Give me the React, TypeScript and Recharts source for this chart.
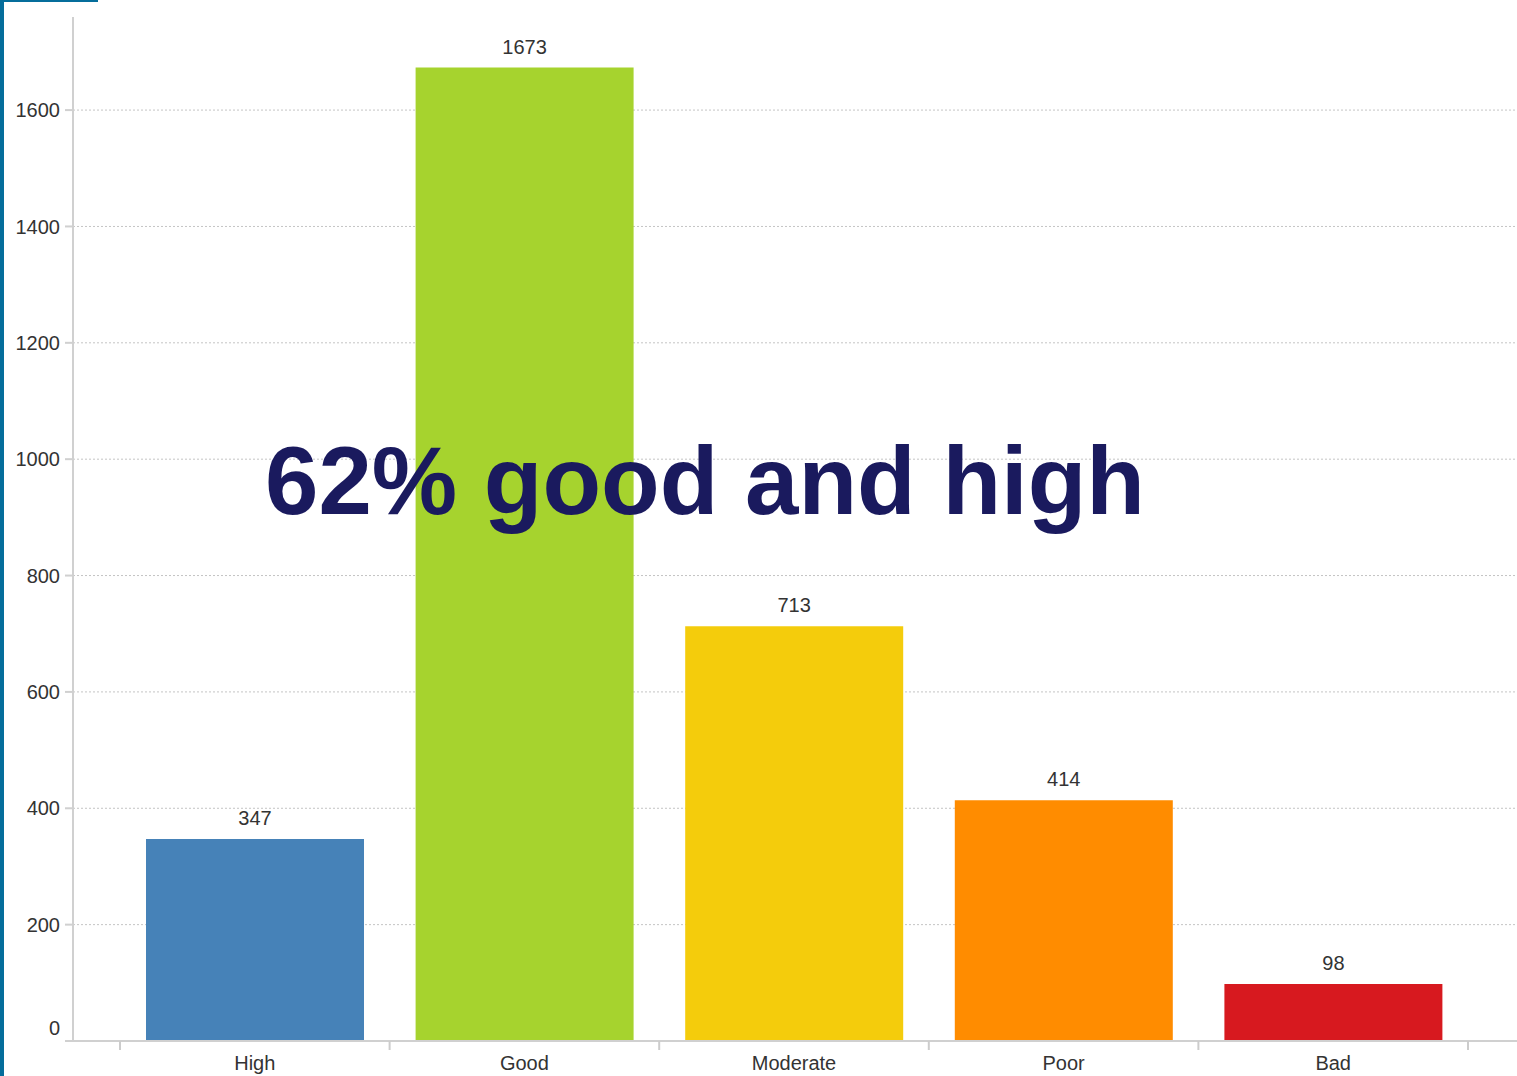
import { BarChart, Bar, XAxis, YAxis, CartesianGrid, Cell, LabelList } from "recharts";

const categories = ["High", "Good", "Moderate", "Poor", "Bad"];
const counts = [347, 1673, 713, 414, 98];
const barColors = ["#4682b8", "#a6d32e", "#f4cc0c", "#ff8c00", "#d7191f"];
const yTicks = [0, 200, 400, 600, 800, 1000, 1200, 1400, 1600];

const data = categories.map((name, i) => ({ name, value: counts[i] }));

const FONT = "'Liberation Sans', Arial, sans-serif";

function YTick(props: any) {
  const { x, y, payload } = props;
  // the zero label sits a bit above its line in the original
  const yy = payload.value === 0 ? y - 13 : y;
  return (
    <text x={x} y={yy} dy="0.355em" textAnchor="end" fontSize={20} fontFamily={FONT} fill="#333">
      {payload.value}
    </text>
  );
}

function XTick(props: any) {
  const { x, y, payload, index } = props;
  const half = payload.offset ?? 0;
  return (
    <g>
      <line x1={x - half} x2={x - half} y1={y} y2={y + 9} stroke="#ccc" strokeWidth={2} />
      {index === categories.length - 1 && (
        <line x1={x + half} x2={x + half} y1={y} y2={y + 9} stroke="#ccc" strokeWidth={2} />
      )}
      <text x={x} y={y + 22} dy="0.355em" textAnchor="middle" fontSize={20} fontFamily={FONT} fill="#333">
        {payload.value}
      </text>
    </g>
  );
}

export default function App() {
  return (
    <div style={{ position: "absolute", left: 0, top: 0, width: 1517, height: 1076, background: "#fff", overflow: "hidden" }}>
      <div style={{ position: "absolute", left: 0, top: 0, width: 4, height: 1076, background: "#056d9b" }} />
      <div style={{ position: "absolute", left: 0, top: 0, width: 98, height: 2, background: "#056d9b" }} />
      <BarChart width={1517} height={1076} data={data} margin={{ top: 17, right: 0, bottom: 0, left: 0 }}>
        <CartesianGrid vertical={false} horizontalValues={yTicks.slice(1)} stroke="#c4c4c4" strokeDasharray="2 2" />
        <XAxis
          dataKey="name"
          height={35}
          padding={{ left: 47, right: 49 }}
          axisLine={{ stroke: "#d0d0d0", strokeWidth: 2 }}
          tickLine={false}
          tickSize={0}
          tickMargin={0}
          tick={<XTick />}
          interval={0}
        />
        <YAxis
          width={73}
          domain={[0, 1760]}
          ticks={yTicks}
          allowDataOverflow
          axisLine={{ stroke: "#d0d0d0", strokeWidth: 2 }}
          tickLine={{ stroke: "#d0d0d0", strokeWidth: 2 }}
          tickSize={8}
          tickMargin={5}
          tick={<YTick />}
        />
        <Bar dataKey="value" barSize={218} isAnimationActive={false}>
          {data.map((d, i) => (
            <Cell key={d.name} fill={barColors[i]} />
          ))}
          <LabelList dataKey="value" position="top" offset={14} fontSize={20} fontFamily={FONT} fill="#333" />
        </Bar>
      </BarChart>
      <div
        style={{
          position: "absolute",
          left: 265,
          top: 421,
          fontFamily: FONT,
          fontWeight: 700,
          fontSize: 96,
          lineHeight: "120px",
          color: "#1a1a5e",
          whiteSpace: "nowrap",
        }}
      >
        62% good and high
      </div>
    </div>
  );
}
